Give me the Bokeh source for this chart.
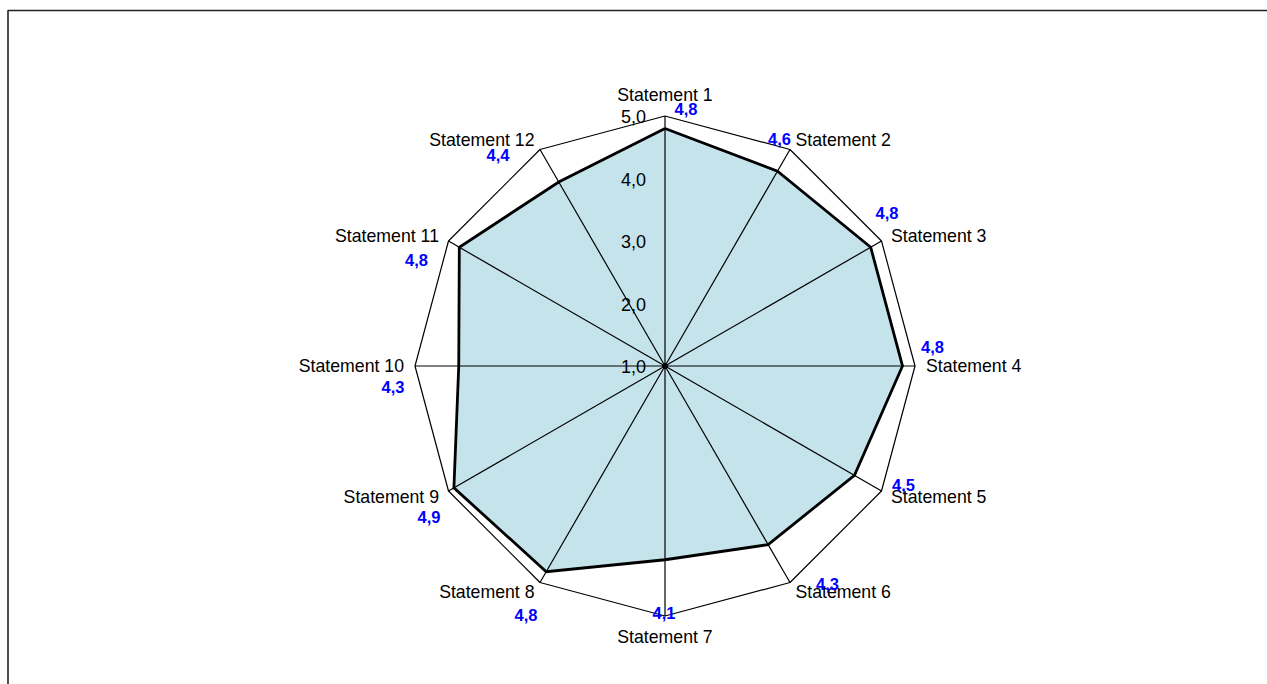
import numpy as np
from bokeh.plotting import figure
from bokeh.models import ColumnDataSource, Range1d
from bokeh.core.properties import value
from bokeh.embed import file_html
from bokeh.resources import INLINE

# ---------------- data ----------------
categories = ["Statement 1", "Statement 2", "Statement 3", "Statement 4",
              "Statement 5", "Statement 6", "Statement 7", "Statement 8",
              "Statement 9", "Statement 10", "Statement 11", "Statement 12"]
values = [4.8, 4.6, 4.8, 4.8, 4.5, 4.3, 4.1, 4.8, 4.9, 4.3, 4.8, 4.4]
value_labels = ["4,8", "4,6", "4,8", "4,8", "4,5", "4,3",
                "4,1", "4,8", "4,9", "4,3", "4,8", "4,4"]
tick_values = [1.0, 2.0, 3.0, 4.0, 5.0]
tick_labels = ["1,0", "2,0", "3,0", "4,0", "5,0"]
scale_min, scale_max = 1.0, 5.0

# ---------------- style / layout ----------------
W, H = 1267, 684
R = 250.0                      # px radius of outer ring
CXF, CYF = 664.5, 365.5        # centre in canvas pixels
FONT = "Liberation Sans"
# value-label screen offsets (dx right, dy down) relative to outer vertex
val_offsets = [(21, -7.5), (-10.5, -10), (5.5, -28), (17.5, -19), (22, -6.5),
               (37.5, 1), (-1, -3), (-14, 32), (-19.5, 26), (-22, 21),
               (-32, 18.5), (-42, 5.7)]

n = len(categories)
theta = np.arange(n) * 2 * np.pi / n
sin_t, cos_t = np.sin(theta), np.cos(theta)


def rad(v):
    return (np.asarray(v, dtype=float) - scale_min) / (scale_max - scale_min) * R


p = figure(width=W, height=H, output_backend="svg", toolbar_location=None,
           x_range=Range1d(-CXF, W - CXF), y_range=Range1d(-(H - CYF), CYF),
           x_axis_location=None, y_axis_location=None, min_border=0,
           outline_line_color=None, background_fill_color="white",
           border_fill_color="white")
p.grid.visible = False

# data polygon fill
r_vals = rad(values)
px = r_vals * sin_t
py = r_vals * cos_t
p.patch(list(px), list(py), fill_color="#c5e3eb", line_color=None)

# spokes
ro = rad(scale_max)
p.segment(x0=[0] * n, y0=[0] * n, x1=list(ro * sin_t), y1=list(ro * cos_t),
          line_color="black", line_width=1.2)

# outer ring
ox = list(ro * sin_t) + [ro * sin_t[0]]
oy = list(ro * cos_t) + [ro * cos_t[0]]
p.line(ox, oy, line_color="black", line_width=1.2)

# data polygon outline
p.line(list(px) + [px[0]], list(py) + [py[0]], line_color="black", line_width=2.8,
       line_join="miter")
p.scatter([0], [0], size=5, color="black")

# category labels
pad = 11.0
aligns, baselines = [], []
for s, c in zip(sin_t, cos_t):
    if abs(s) < 1e-6:
        aligns.append("center")
        baselines.append("bottom" if c > 0 else "top")
    else:
        aligns.append("left" if s > 0 else "right")
        baselines.append("middle")
cat_src = ColumnDataSource(dict(x=list((ro + pad) * sin_t), y=list((ro + pad) * cos_t),
                                text=categories, align=aligns, base=baselines))
p.text(x="x", y="y", text="text", source=cat_src, text_align="align",
       text_baseline="base", text_font=value(FONT), text_font_size="17.7px",
       text_color="black")

# value labels
vx = [ro * s + d[0] for s, d in zip(sin_t, val_offsets)]
vy = [ro * c - d[1] for c, d in zip(cos_t, val_offsets)]
val_src = ColumnDataSource(dict(x=vx, y=vy, text=value_labels))
p.text(x="x", y="y", text="text", source=val_src, text_align="center",
       text_baseline="middle", text_font=value(FONT), text_font_size="16.5px",
       text_font_style="bold", text_color="#0000ff")

# tick labels along the first spoke
tk_src = ColumnDataSource(dict(x=[-19.0] * len(tick_values),
                               y=list(rad(tick_values) - 0.5), text=tick_labels))
p.text(x="x", y="y", text="text", source=tk_src, text_align="right",
       text_baseline="middle", text_font=value(FONT), text_font_size="18px",
       text_color="black")

# chart-area border (left and top edges visible)
bl, bt = 7.5 - CXF, CYF - 10.0
p.line([bl, bl, W - CXF], [-(H - CYF), bt, bt], line_color="#222222", line_width=1.6)

open("out.html", "w").write(file_html(p, INLINE))
